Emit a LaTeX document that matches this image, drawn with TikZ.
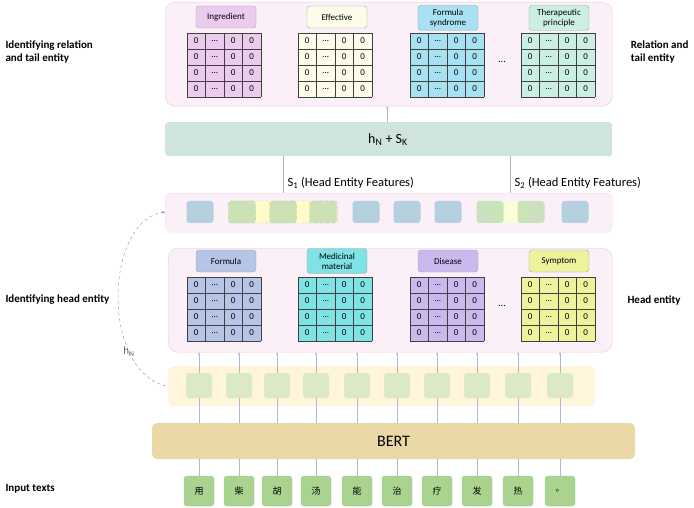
\documentclass[tikz,border=0pt]{standalone}
\usepackage{fontspec}
\setmainfont{Carlito}
\newfontfamily\cjk{Noto Sans CJK SC}
\usetikzlibrary{arrows.meta}
\definecolor{pinkbg}{HTML}{FBF0F8}
\definecolor{pinkbd}{HTML}{EBC8E4}
\definecolor{cIng}{HTML}{EBCBEE}
\definecolor{cEff}{HTML}{FDFBEA}
\definecolor{cFs}{HTML}{A8E2F2}
\definecolor{cTp}{HTML}{CBEFE2}
\definecolor{cFo}{HTML}{B6C4E6}
\definecolor{cMm}{HTML}{7FE2E4}
\definecolor{cDi}{HTML}{CAB9EE}
\definecolor{cSy}{HTML}{EEF29C}
\definecolor{cBlu}{HTML}{B4D0DE}
\definecolor{cGrn}{HTML}{BFDDB0}
\definecolor{cH}{HTML}{DCE9C6}
\definecolor{cTok}{HTML}{A9D38F}
\definecolor{cBert}{HTML}{EAD9A6}
\definecolor{cHs}{HTML}{CFE4DC}
\definecolor{cHrow}{HTML}{FFF5DC}
\newcommand\mydots{...}
\tikzset{
 lab/.style={draw=gray!70,rounded corners=3pt,minimum width=60pt,minimum height=22pt,font=\fontsize{9}{10}\selectfont,align=center,inner sep=1pt},
 panel/.style={draw=pinkbd,fill=pinkbg,rounded corners=10pt},
 side/.style={font=\bfseries\fontsize{11}{13}\selectfont,align=left},
 blu/.style={fill=cBlu,draw=none,rounded corners=3pt,minimum width=27pt,minimum height=22pt},
 grn/.style={fill=cGrn,draw=gray!50,dashed,rounded corners=3pt,minimum width=27pt,minimum height=22pt,fill opacity=.8},
 hsq/.style={fill=cH,draw=none,rounded corners=3pt,minimum width=26pt,minimum height=25pt},
 tok/.style={fill=cTok,draw=green!40!black!35,rounded corners=3pt,minimum width=30pt,minimum height=30pt,font=\cjk\fontsize{9}{9}\selectfont},
 vl/.style={draw=blue!30!gray!45,line width=0.6pt},
 up/.style={vl,-{Stealth[length=3pt,width=2.5pt]}},
}
\newcommand\mtx[3]{%
 \fill[#3] (#1,#2) rectangle ++(74,64);
 \foreach \r in {0,1,2,3}{
  \foreach \c/\t in {0/0,1/\mydots,2/0,3/0}{
   \node[font=\fontsize{9}{9}\selectfont,inner sep=0] at (#1+9.25+\c*18.5,#2+8+\r*16) {\t};}}
 \foreach \k in {0,1,2,3,4}{
  \draw[black!75,line width=0.5pt] (#1+\k*18.5,#2) -- (#1+\k*18.5,#2+64);
  \draw[black!75,line width=0.5pt] (#1,#2+\k*16) -- (#1+74,#2+\k*16);}
}
\begin{document}
\begin{tikzpicture}[x=1pt,y=-1pt]
\useasboundingbox (0,0) rectangle (694,508);
% top panel
\node[panel,minimum width=447pt,minimum height=104pt,anchor=north west] (top) at (165,2) {};
\mtx{187}{33}{cIng}
\mtx{298}{33}{cEff}
\mtx{410}{33}{cFs}
\mtx{521}{33}{cTp}
\node[lab,fill=cIng] (l1) at (226,17) {Ingredient};
\node[lab,fill=cEff] (l2) at (337,17) {Effective};
\node[lab,fill=cFs,minimum height=25pt] (l3) at (448,18) {Formula\\syndrome};
\node[lab,fill=cTp,minimum height=25pt] (l4) at (559,18) {Therapeutic\\principle};
\node (d1) at (502,62) {...};
% hN+SK
\node[draw=none,fill=cHs,rounded corners=3pt,minimum width=447pt,minimum height=34pt,anchor=north west] (hs) at (165,122) {};
\node[font=\fontsize{14}{15}\selectfont] (hst) at (388,140) {h\textsubscript{N} + S\textsubscript{K}};
\coordinate (a1) at (387,122);
\coordinate (a2) at (387,106);
\draw[up] (a1) -- (a2);
% features
\node[panel,draw=pinkbd!60,rounded corners=6pt,minimum width=447pt,minimum height=39pt,anchor=north west] (feat) at (165,193) {};
\coordinate (s1a) at (283,156); \coordinate (s1b) at (283,193);
\coordinate (s2a) at (510,156); \coordinate (s2b) at (510,193);
\draw[vl,draw=gray!60] (s1a) -- (s1b); \draw[vl,draw=gray!60] (s2a) -- (s2b);
\node[anchor=west,font=\fontsize{12.5}{13}\selectfont] (s1) at (284,183) {S\textsubscript{1} (Head Entity Features)};
\node[anchor=west,font=\fontsize{12.5}{13}\selectfont] (s2) at (511,183) {S\textsubscript{2} (Head Entity Features)};
\node[fill=yellow!22,draw=gray!60,dashed,rounded corners=3pt,minimum width=109pt,minimum height=22pt] (grp) at (283,212) {};
\foreach \x [count=\i] in {242,283,323}{\node[grn] (g\i) at (\x,212) {};}
\fill[green!15!yellow!15] (490,201) rectangle (531,223);
\foreach \x [count=\i] in {490,531}{\node[grn,draw=none] (gg\i) at (\x,212) {};}
\foreach \x [count=\i] in {200,366,407,448,575}{\node[blu] (b\i) at (\x,212) {};}
% head entity panel
\node[panel,minimum width=444pt,minimum height=104pt,anchor=north west] (head) at (168,248) {};
\mtx{187}{277}{cFo}
\mtx{298}{277}{cMm}
\mtx{410}{277}{cDi}
\mtx{521}{277}{cSy}
\node[lab,fill=cFo] (h1) at (226,261) {Formula};
\node[lab,fill=cMm,minimum height=25pt] (h2) at (337,261) {Medicinal\\material};
\node[lab,fill=cDi] (h3) at (448,261) {Disease};
\node[lab,fill=cSy] (h4) at (559,261) {Symptom};
\node (d2) at (502,306) {...};
% h row
\node[draw=none,fill=cHrow,rounded corners=5pt,minimum width=427pt,minimum height=40pt,anchor=north west] (hrow) at (168,366) {};
% BERT
\node[fill=cBert,rounded corners=5pt,minimum width=483pt,minimum height=36pt,font=\fontsize{16}{17}\selectfont] (bert) at (393.5,441) {BERT};
\foreach \x/\c [count=\i] in {199/用,239/柴,277/胡,316/汤,357/能,397/治,437/疗,477/发,518/热,560/。}{
 \node[tok] (t\i) at (\x,491) {\c};
 \coordinate (u\i) at (\x,352);
 \draw[vl] (t\i.north) -- (\x,459);
 \draw[vl] (\x,423) -- (\x,373);
 \node[hsq] (h\i) at (\x,385.5) {};
 \draw[up] (h\i.north) -- (u\i);
}
% dashed curve
\coordinate (c0) at (166,386);
\coordinate (c1) at (165,212);
\draw[dashed,draw=blue!40!gray!70,-{Stealth[length=3pt]}] (c0) .. controls (100,370) and (105,220) .. (c1);
\node[font=\fontsize{11}{12}\selectfont,text=gray!80!black] (hn) at (129,352) {h\textsubscript{N}};
% side labels
\node[side,anchor=west] (L1) at (2,52) {Identifying relation\\and tail entity};
\node[side,anchor=west] (L2) at (2,300) {Identifying head entity};
\node[side,anchor=west] (L3) at (2,489) {Input texts};
\node[side,anchor=east,align=left] (R1) at (692,52) {Relation and\\tail entity};
\node[side,anchor=west] (R2) at (624,300) {Head entity};
\end{tikzpicture}
\end{document}
